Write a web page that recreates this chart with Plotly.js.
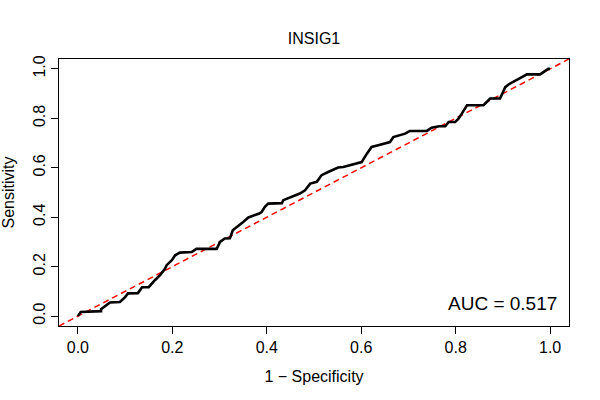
<!DOCTYPE html>
<html>
<head>
<meta charset="utf-8">
<script src="https://cdn.plot.ly/plotly-3.0.1.min.js"></script>
<style>html,body{margin:0;padding:0;background:#fff;}#chart{width:600px;height:400px;}</style>
</head>
<body>
<div id="chart"></div>
<script>
// ROC curve for INSIG1 (1 - Specificity vs Sensitivity)
var fpr = [0.000, 0.006, 0.049, 0.049, 0.068, 0.089, 0.100, 0.106, 0.127, 0.136, 0.150, 0.157, 0.163, 0.174, 0.184,
           0.188, 0.199, 0.206, 0.216, 0.241, 0.244, 0.251, 0.294, 0.301, 0.311, 0.322, 0.328, 0.340, 0.350, 0.361, 0.371, 0.384,
           0.389, 0.396, 0.403, 0.432, 0.435, 0.446, 0.460, 0.470, 0.481, 0.492, 0.506, 0.516, 0.530, 0.551, 0.562, 0.575,
           0.587, 0.601, 0.612, 0.622, 0.636, 0.650, 0.661, 0.668, 0.679, 0.693, 0.703, 0.739, 0.749, 0.765,
           0.778, 0.785, 0.799, 0.806, 0.813, 0.824, 0.859, 0.869, 0.873, 0.894,
           0.905, 0.912, 0.922, 0.933, 0.943, 0.951, 0.979, 0.986, 0.996, 1.000];
var tpr = [0.000, 0.017, 0.020, 0.028, 0.055, 0.057, 0.077, 0.092, 0.093, 0.117, 0.117, 0.133, 0.145, 0.166, 0.190,
           0.206, 0.226, 0.246, 0.257, 0.259, 0.263, 0.272, 0.272, 0.300, 0.314, 0.315, 0.347, 0.364, 0.381, 0.399, 0.405, 0.415,
           0.421, 0.442, 0.455, 0.457, 0.469, 0.478, 0.489, 0.496, 0.509, 0.536, 0.543, 0.570, 0.583, 0.601, 0.603, 0.610,
           0.617, 0.623, 0.657, 0.684, 0.691, 0.700, 0.704, 0.724, 0.731, 0.738, 0.749, 0.749, 0.762, 0.768,
           0.768, 0.785, 0.785, 0.799, 0.819, 0.853, 0.853, 0.873, 0.880, 0.880,
           0.926, 0.937, 0.947, 0.960, 0.967, 0.978, 0.978, 0.987, 1.000, 1.000];
var diagonal = [-0.04, 1.04];
var tickValues = [0, 0.2, 0.4, 0.6, 0.8, 1.0];
var tickLabels = ["0.0", "0.2", "0.4", "0.6", "0.8", "1.0"];
var chartTitle = "INSIG1";
var aucLabel = "AUC = 0.517";

var font = "Liberation Sans, Arial, Helvetica, sans-serif";

var traces = [
  {x: diagonal, y: diagonal, mode: "lines", type: "scatter",
   line: {color: "#ff0000", width: 1.5, dash: "6px,4px"}, hoverinfo: "skip"},
  {x: fpr, y: tpr, mode: "lines", type: "scatter",
   line: {color: "#000000", width: 2.6}}
];

var axisCommon = {
  range: [-0.04, 1.04], autorange: false,
  tickmode: "array", tickvals: tickValues, ticktext: tickLabels,
  ticks: "outside", ticklen: 7, tickwidth: 1, tickcolor: "#000",
  showline: true, mirror: true, linecolor: "#000", linewidth: 1,
  showgrid: false, zeroline: false,
  tickfont: {family: font, size: 16, color: "#000"}
};

var layout = {
  width: 600, height: 400,
  margin: {l: 59, r: 31, t: 59, b: 74},
  paper_bgcolor: "#fff", plot_bgcolor: "#fff",
  showlegend: false,
  font: {family: font, color: "#000"},
  title: {text: chartTitle, font: {family: font, size: 16, color: "#000"},
          xref: "paper", x: 0.5, xanchor: "center", yref: "container", y: 0.905, yanchor: "middle"},
  xaxis: Object.assign({}, axisCommon, {
    title: {text: "1 \u2212 Specificity", font: {family: font, size: 16, color: "#000"}, standoff: 15}
  }),
  yaxis: Object.assign({}, axisCommon, {
    tickangle: -90,
    title: {text: "Sensitivity", font: {family: font, size: 16, color: "#000"}, standoff: 12}
  }),
  annotations: [
    {text: aucLabel, x: 1.019, y: 0.05, xref: "x", yref: "y", xanchor: "right", yanchor: "middle",
     showarrow: false, font: {family: font, size: 19, color: "#000"}}
  ]
};

Plotly.newPlot("chart", traces, layout, {staticPlot: true, displayModeBar: false});
</script>
</body>
</html>
